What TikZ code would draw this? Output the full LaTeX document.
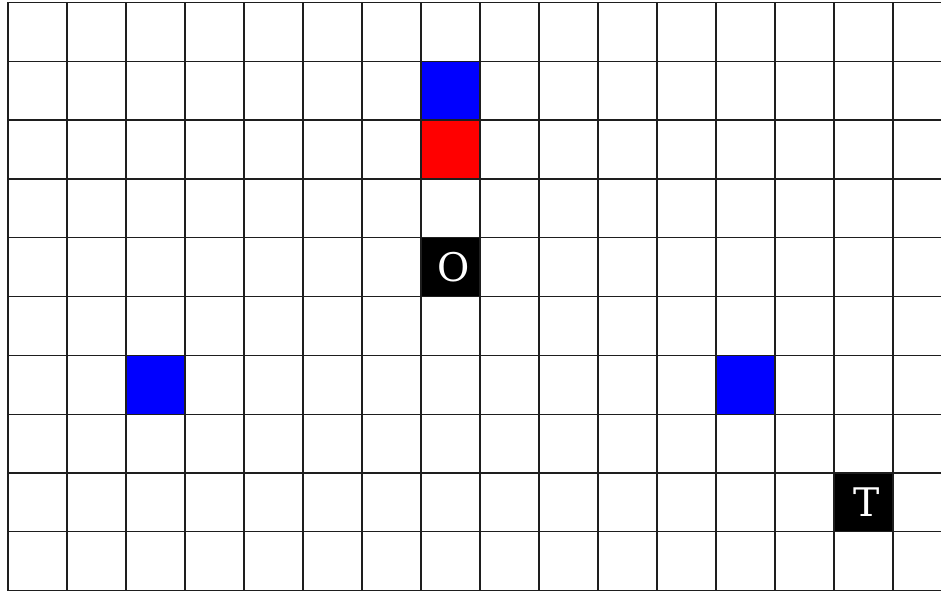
\documentclass[tikz,border=0pt]{standalone}
\usepackage{fontspec}
\setmainfont{DejaVu Serif}
\usepackage{xcolor}
\usepackage{tikz}
\usetikzlibrary{positioning}
\definecolor{wallblue}{RGB}{0,0,255}
\definecolor{probered}{RGB}{255,0,0}
\definecolor{gridink}{RGB}{30,30,30}
\tikzset{
  gridline/.style={line width=0.6pt,draw=gridink},
  cell/.style={draw=gridink,line width=0.6pt,minimum width=1cm,
    minimum height=0.997cm,inner sep=0pt,outer sep=0pt,anchor=south west},
  wall/.style={cell,fill=wallblue},
  probe/.style={cell,fill=probered},
  marker/.style={cell,fill=black,text=white,
    font=\fontsize{19}{19}\selectfont}
}

\begin{document}
\begin{tikzpicture}[x=1cm,y=0.997cm]
  \useasboundingbox (-0.136,-0.005) rectangle (15.813,10.042);
  % the board
  \foreach \col in {0,...,16}
    \draw[gridline] (\col,0) -- (\col,10);
  \foreach \row in {0,...,10}
    \draw[gridline] (0,\row) -- (16,\row);

  % filled cells
  \node[wall]  (top)   at (7,8)  {};
  \node[probe] (probe) at (7,7)  {};
  \node[marker] (origin) at (7,5) {\hspace{0.12cm}O};
  \node[wall]  (left)  at (2,3)  {};
  \node[wall]  (right) at (12,3) {};
  \node[marker] (target) at (14,1) {\hspace{0.12cm}T};
\end{tikzpicture}
\end{document}
